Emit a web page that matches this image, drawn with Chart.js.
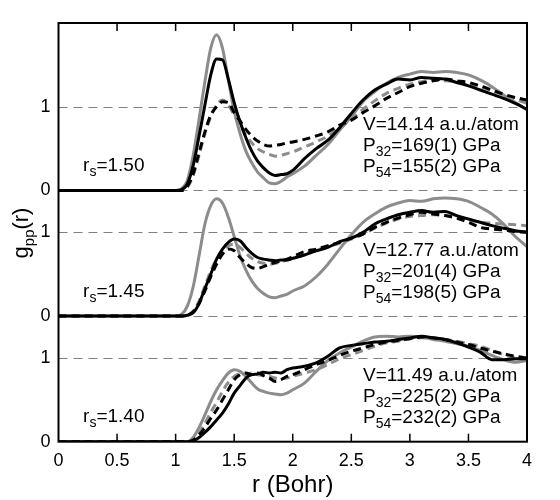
<!DOCTYPE html>
<html>
<head>
<meta charset="utf-8">
<script src="https://cdn.jsdelivr.net/npm/chart.js@4.4.1/dist/chart.umd.min.js"></script>
<style>
  body { margin: 0; background: #fff; }
  canvas { display: block; }
</style>
</head>
<body>
<canvas id="chart" width="560" height="500"></canvas>
<script>
// r grid (Bohr), shared by every curve
const r = [0, 1.0, 1.05, 1.1, 1.15, 1.2, 1.25, 1.3, 1.35, 1.4, 1.45, 1.5, 1.55, 1.6, 1.65, 1.7, 1.75, 1.8, 1.85, 1.9, 1.95, 2.0,
           2.1, 2.2, 2.3, 2.4, 2.5, 2.6, 2.7, 2.8, 2.9, 3.0, 3.1, 3.2, 3.3, 3.4, 3.5, 3.6, 3.7, 3.8, 3.9, 4.0];

// rs = 1.50
const solidGray150  = [0, 0, 0.02, 0.12, 0.42, 0.85, 1.3, 1.7, 1.86, 1.7, 1.32, 0.95, 0.68, 0.47, 0.33, 0.22, 0.15, 0.09, 0.08, 0.11, 0.16, 0.2,
                       0.29, 0.42, 0.55, 0.72, 0.88, 1.06, 1.18, 1.28, 1.35, 1.39, 1.42, 1.41, 1.42, 1.41, 1.38, 1.32, 1.24, 1.14, 1.05, 0.96];
const solidBlack150 = [0, 0, 0.01, 0.08, 0.3, 0.65, 1.02, 1.38, 1.57, 1.56, 1.33, 1.05, 0.82, 0.63, 0.47, 0.35, 0.27, 0.21, 0.18, 0.19, 0.2, 0.24,
                       0.38, 0.5, 0.6, 0.75, 0.92, 1.08, 1.2, 1.27, 1.33, 1.32, 1.35, 1.34, 1.33, 1.29, 1.25, 1.2, 1.15, 1.1, 1.04, 0.97];
const dashGray150   = [0, 0, 0, 0.04, 0.18, 0.42, 0.68, 0.88, 1.02, 1.08, 1.02, 0.9, 0.78, 0.66, 0.57, 0.5, 0.46, 0.43, 0.41, 0.42, 0.44, 0.46,
                       0.52, 0.58, 0.65, 0.75, 0.85, 0.97, 1.07, 1.16, 1.22, 1.27, 1.3, 1.32, 1.31, 1.3, 1.27, 1.24, 1.19, 1.14, 1.09, 1.04];
const dashBlack150  = [0, 0, 0, 0.05, 0.2, 0.45, 0.7, 0.9, 1.0, 1.06, 1.05, 0.93, 0.83, 0.73, 0.65, 0.59, 0.55, 0.53, 0.54, 0.55, 0.57, 0.58,
                       0.61, 0.65, 0.7, 0.78, 0.84, 0.93, 1.01, 1.1, 1.17, 1.24, 1.28, 1.31, 1.33, 1.31, 1.29, 1.25, 1.2, 1.15, 1.11, 1.08];

// rs = 1.45
const solidGray145  = [0, 0, 0.02, 0.12, 0.35, 0.72, 1.1, 1.32, 1.4, 1.35, 1.18, 0.95, 0.72, 0.55, 0.42, 0.33, 0.27, 0.23, 0.22, 0.24, 0.26, 0.3,
                       0.36, 0.47, 0.62, 0.8, 0.97, 1.12, 1.22, 1.3, 1.35, 1.38, 1.37, 1.4, 1.41, 1.4, 1.37, 1.3, 1.22, 1.1, 0.95, 0.83];
const solidBlack145 = [0, 0, 0, 0.01, 0.04, 0.15, 0.33, 0.5, 0.68, 0.8, 0.88, 0.92, 0.9, 0.82, 0.75, 0.7, 0.68, 0.67, 0.66, 0.67, 0.67, 0.69,
                       0.73, 0.78, 0.82, 0.89, 0.93, 1.0, 1.1, 1.16, 1.21, 1.24, 1.26, 1.24, 1.25, 1.2, 1.16, 1.12, 1.08, 1.05, 1.02, 1.0];
const dashGray145   = [0, 0, 0, 0.01, 0.06, 0.18, 0.36, 0.54, 0.68, 0.78, 0.84, 0.86, 0.82, 0.75, 0.69, 0.65, 0.63, 0.62, 0.63, 0.65, 0.67, 0.69,
                       0.74, 0.79, 0.83, 0.87, 0.92, 0.98, 1.05, 1.11, 1.16, 1.19, 1.2, 1.21, 1.2, 1.18, 1.15, 1.12, 1.11, 1.1, 1.09, 1.08];
const dashBlack145  = [0, 0, 0, 0.01, 0.05, 0.15, 0.3, 0.47, 0.62, 0.74, 0.8, 0.78, 0.7, 0.63, 0.58, 0.57, 0.59, 0.62, 0.64, 0.66, 0.68, 0.71,
                       0.77, 0.8, 0.84, 0.88, 0.93, 0.98, 1.06, 1.12, 1.17, 1.21, 1.24, 1.22, 1.2, 1.17, 1.12, 1.06, 1.04, 1.03, 1.01, 1.0];

// rs = 1.40
const solidGray140  = [0, 0, 0, 0, 0.05, 0.17, 0.32, 0.48, 0.62, 0.73, 0.82, 0.86, 0.84, 0.78, 0.7, 0.63, 0.6, 0.58, 0.57, 0.56, 0.58, 0.62,
                       0.7, 0.84, 0.97, 1.06, 1.13, 1.2, 1.25, 1.26, 1.25, 1.26, 1.25, 1.22, 1.2, 1.17, 1.14, 1.09, 1.03, 0.98, 0.95, 0.97];
const solidBlack140 = [0, 0, 0, 0, 0.01, 0.05, 0.11, 0.18, 0.26, 0.34, 0.45, 0.58, 0.67, 0.76, 0.8, 0.81, 0.83, 0.82, 0.83, 0.82, 0.86, 0.88,
                       0.9, 0.94, 1.02, 1.12, 1.15, 1.17, 1.19, 1.2, 1.22, 1.24, 1.26, 1.24, 1.22, 1.18, 1.13, 1.07, 0.98, 0.98, 0.99, 0.99];
const dashGray140   = [0, 0, 0, 0, 0.03, 0.1, 0.22, 0.35, 0.47, 0.6, 0.71, 0.78, 0.81, 0.8, 0.82, 0.8, 0.79, 0.78, 0.76, 0.75, 0.76, 0.78,
                       0.82, 0.86, 0.92, 0.99, 1.04, 1.09, 1.14, 1.18, 1.2, 1.23, 1.24, 1.23, 1.22, 1.2, 1.17, 1.14, 1.09, 1.04, 1.0, 0.98];
const dashBlack140  = [0, 0, 0, 0, 0.02, 0.08, 0.17, 0.28, 0.38, 0.5, 0.62, 0.74, 0.8, 0.82, 0.8, 0.82, 0.79, 0.76, 0.72, 0.74, 0.78, 0.8,
                       0.86, 0.92, 0.97, 1.03, 1.08, 1.12, 1.16, 1.19, 1.21, 1.23, 1.25, 1.24, 1.22, 1.19, 1.16, 1.12, 1.08, 1.05, 1.02, 1.0];

// panel texts
const rsLabels = ['1.50', '1.45', '1.40'];
const volumes  = ['14.14', '12.77', '11.49'];
const p32      = ['169(1)', '201(4)', '225(2)'];
const p54      = ['155(2)', '198(5)', '232(2)'];

// axis ticks
const xTicks = [0, 0.5, 1, 1.5, 2, 2.5, 3, 3.5, 4];
const yTickLabels = ['0', '1', '0', '1', '0', '1'];

// each panel is shifted up on one common y scale
const panelOffsets = [3, 1.5, 0];
const panelSeries = [
  [solidBlack150, dashBlack150, solidGray150, dashGray150],
  [solidBlack145, dashBlack145, solidGray145, dashGray145],
  [solidBlack140, dashBlack140, solidGray140, dashGray140]
];

const GRAY = '#8c8c8c';
const FONT = '"Liberation Sans", Arial, Helvetica, sans-serif';
const styles = [
  { color: '#000', dash: [] },
  { color: '#000', dash: [8, 5] },
  { color: GRAY, dash: [] },
  { color: GRAY, dash: [8, 5] }
];

const datasets = [];
styles.forEach((st, k) => {
  panelSeries.forEach((series, p) => {
    const vals = series[k];
    datasets.push({
      data: r.map((x, i) => ({ x: x, y: vals[i] + panelOffsets[p] })),
      borderColor: st.color,
      borderWidth: 3,
      borderDash: st.dash,
      pointRadius: 0,
      fill: false,
      cubicInterpolationMode: 'monotone'
    });
  });
});

const yTickValues = [];
panelOffsets.slice().reverse().forEach(o => { yTickValues.push(o, o + 1); });

function richText(ctx, x, y, parts) {
  parts.forEach(pt => {
    ctx.font = pt[1] + 'px ' + FONT;
    ctx.fillText(pt[0], x, y + (pt[2] || 0));
    x += ctx.measureText(pt[0]).width;
  });
}

const decor = {
  id: 'decor',
  beforeDatasetsDraw(chart) {
    const ctx = chart.ctx, a = chart.chartArea, ys = chart.scales.y;
    ctx.save();
    ctx.strokeStyle = '#808080';
    ctx.lineWidth = 1.2;
    ctx.setLineDash([9, 6]);
    panelOffsets.forEach(o => {
      [o, o + 1].forEach(v => {
        if (v === 0) return;
        const y = Math.round(ys.getPixelForValue(v)) + 0.5;
        ctx.beginPath();
        ctx.moveTo(a.left, y);
        ctx.lineTo(a.right, y);
        ctx.stroke();
      });
    });
    ctx.restore();
  },
  afterDraw(chart) {
    const ctx = chart.ctx, a = chart.chartArea;
    const xs = chart.scales.x, ys = chart.scales.y;
    ctx.save();
    // frame
    ctx.strokeStyle = '#000';
    ctx.lineWidth = 2;
    ctx.strokeRect(a.left, a.top, a.right - a.left, a.bottom - a.top);
    // inward ticks top and bottom
    ctx.lineWidth = 1.5;
    xTicks.slice(1, -1).forEach(v => {
      const x = xs.getPixelForValue(v);
      ctx.beginPath();
      ctx.moveTo(x, a.bottom); ctx.lineTo(x, a.bottom - 8);
      ctx.moveTo(x, a.top); ctx.lineTo(x, a.top + 8);
      ctx.stroke();
    });
    // panel texts
    ctx.fillStyle = '#000';
    ctx.textBaseline = 'alphabetic';
    ctx.textAlign = 'left';
    panelOffsets.forEach((o, p) => {
      const xr = xs.getPixelForValue(0.21);
      richText(ctx, xr, ys.getPixelForValue(o + 0.23), [['r', 19], ['s', 14, 5], ['=' + rsLabels[p], 19]]);
      const xv = xs.getPixelForValue(2.6);
      richText(ctx, xv, ys.getPixelForValue(o + 0.72), [['V=' + volumes[p] + ' a.u./atom', 19]]);
      richText(ctx, xv, ys.getPixelForValue(o + 0.47), [['P', 19], ['32', 14, 5], ['=' + p32[p] + ' GPa', 19]]);
      richText(ctx, xv, ys.getPixelForValue(o + 0.22), [['P', 19], ['54', 14, 5], ['=' + p54[p] + ' GPa', 19]]);
    });
    // y axis title g_pp(r)
    const parts = [['g', 22], ['pp', 15, 6], ['(r)', 22]];
    let w = 0;
    parts.forEach(pt => { ctx.font = pt[1] + 'px ' + FONT; w += ctx.measureText(pt[0]).width; });
    ctx.translate(27.5, 233);
    ctx.rotate(-Math.PI / 2);
    richText(ctx, -w / 2, 0, parts);
    ctx.restore();
  }
};

Chart.defaults.color = '#000';
Chart.defaults.font.family = FONT;

new Chart(document.getElementById('chart'), {
  type: 'line',
  data: { datasets: datasets },
  options: {
    responsive: false,
    animation: false,
    layout: { padding: { top: 23, right: 33, left: 0, bottom: 0 } },
    plugins: { legend: { display: false }, tooltip: { enabled: false } },
    scales: {
      x: {
        type: 'linear',
        min: 0,
        max: 4,
        afterBuildTicks: s => { s.ticks = xTicks.map(v => ({ value: v })); },
        ticks: { font: { size: 18 }, padding: 9, maxRotation: 0, callback: v => String(v) },
        grid: { display: false, drawTicks: false },
        border: { display: false },
        title: { display: true, text: 'r (Bohr)', font: { size: 24 }, padding: 0 },
        afterFit: s => { s.height = 58.3; }
      },
      y: {
        type: 'linear',
        min: 0,
        max: 5,
        afterBuildTicks: s => { s.ticks = yTickValues.map(v => ({ value: v })); },
        ticks: { font: { size: 18 }, padding: 8, callback: (v, i) => yTickLabels[i] },
        grid: { display: false, drawTicks: false },
        border: { display: false },
        afterFit: s => { s.width = 58.5; }
      }
    }
  },
  plugins: [decor]
});
</script>
</body>
</html>
